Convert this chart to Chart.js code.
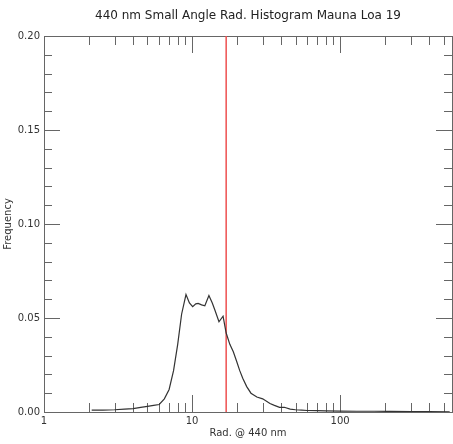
<!DOCTYPE html>
<html>
<head>
<title>Small Angle Rad. Histogram</title>
<script src="https://cdn.jsdelivr.net/npm/chart.js"></script>
<style>
  body {
  margin: 0;
  padding: 0;
  background-color: #fff;
}
#wrap {
  width: 453px;
  height: 444px;
}
</style>
</head>
<body>
<div id="wrap"><canvas id="chart" width="453" height="444"></canvas></div>

<script>
// radius (x) and frequency (y)
const radius = [2.1, 2.5, 3, 3.5, 4, 4.5, 5, 5.5, 6, 6.5, 7, 7.5, 8, 8.5, 9.1, 9.6, 10.1, 10.6, 11.0, 11.6,
  12.2, 13.0, 13.7, 14.3, 15.2, 16.2, 17.0, 18, 19, 20, 21, 22, 23.4, 25, 27.4, 30, 33.6, 36, 39, 42,
  46, 50, 55, 60, 70, 80, 100, 130, 170, 220, 300, 400, 550];
const frequency = [0.001, 0.001, 0.0012, 0.0015, 0.0018, 0.0025, 0.003, 0.0035, 0.004, 0.007, 0.012, 0.022, 0.036, 0.052, 0.0625, 0.058, 0.056, 0.0575, 0.0578, 0.057,
  0.0565, 0.062, 0.058, 0.054, 0.048, 0.051, 0.042, 0.036, 0.032, 0.027, 0.022, 0.018, 0.0135, 0.010, 0.008, 0.007, 0.0045, 0.0035, 0.0025, 0.0025,
  0.0015, 0.0012, 0.001, 0.0008, 0.0007, 0.0006, 0.0005, 0.0004, 0.0004, 0.0003, 0.0002, 0.0002, 0.0001];
const markerRadius = 17;
const xLabels = [1, 10, 100];
const yLabels = [0, 0.05, 0.10, 0.15, 0.20];
const titleText = '440 nm Small Angle Rad. Histogram Mauna Loa 19';
const xTitle = 'Rad. @ 440 nm';
const yTitle = 'Frequency';

// axes drawn by hand so ticks point inward like the original plot
const axesPlugin = {
  id: 'idlAxes',
  beforeDatasetsDraw(chart) {
    const { ctx, chartArea: a, scales: { x, y } } = chart;
    ctx.save();
    ctx.strokeStyle = '#666';
    ctx.lineWidth = 1;
    ctx.strokeRect(a.left + 0.5, a.top + 0.5, a.right - a.left, a.bottom - a.top);
    ctx.beginPath();
    for (let d = 1; d <= 1000; d *= 10) {
      for (let m = 1; m < 10; m++) {
        const v = m * d;
        if (v > x.max) break;
        const px = Math.round(x.getPixelForValue(v)) + 0.5;
        const len = m === 1 ? 17 : 9;
        ctx.moveTo(px, a.bottom); ctx.lineTo(px, a.bottom - len);
        ctx.moveTo(px, a.top); ctx.lineTo(px, a.top + len);
      }
    }
    for (let i = 0; i <= 20; i++) {
      const py = Math.round(y.getPixelForValue(i * 0.01)) + 0.5;
      const len = i % 5 === 0 ? 16 : 8;
      ctx.moveTo(a.left, py); ctx.lineTo(a.left + len, py);
      ctx.moveTo(a.right, py); ctx.lineTo(a.right - len, py);
    }
    ctx.stroke();

    ctx.fillStyle = '#333';
    ctx.font = '10px "DejaVu Sans"';
    ctx.textAlign = 'right';
    ctx.textBaseline = 'middle';
    yLabels.forEach(v => ctx.fillText(v.toFixed(2), a.left - 4, y.getPixelForValue(v)));
    ctx.textAlign = 'center';
    ctx.textBaseline = 'top';
    xLabels.forEach(v => ctx.fillText(String(v), x.getPixelForValue(v), a.bottom + 4));
    ctx.fillText(xTitle, (a.left + a.right) / 2, a.bottom + 16);
    ctx.font = '12px "DejaVu Sans"';
    ctx.textBaseline = 'middle';
    ctx.fillStyle = '#222';
    ctx.fillText(titleText, (a.left + a.right) / 2, 16);
    ctx.translate(8, (a.top + a.bottom) / 2);
    ctx.rotate(-Math.PI / 2);
    ctx.font = '10px "DejaVu Sans"';
    ctx.fillStyle = '#333';
    ctx.fillText(yTitle, 0, 0);
    ctx.restore();
  }
};

new Chart(document.getElementById('chart'), {
  type: 'line',
  data: {
    datasets: [{
      data: radius.map((r, i) => ({ x: r, y: frequency[i] })),
      borderColor: '#333',
      borderWidth: 1.2,
      pointRadius: 0,
      tension: 0
    }, {
      data: [{ x: markerRadius, y: 0 }, { x: markerRadius, y: 0.2 }],
      borderColor: 'rgb(238,80,80)',
      borderWidth: 1.5,
      pointRadius: 0
    }]
  },
  options: {
    responsive: false,
    animation: false,
    layout: { padding: { left: 44, right: 1, top: 36, bottom: 32 } },
    plugins: { legend: { display: false }, tooltip: { enabled: false } },
    scales: {
      x: { type: 'logarithmic', min: 1, max: 570, display: false },
      y: { type: 'linear', min: 0, max: 0.2, display: false }
    }
  },
  plugins: [axesPlugin]
});
</script>
</body>
</html>
